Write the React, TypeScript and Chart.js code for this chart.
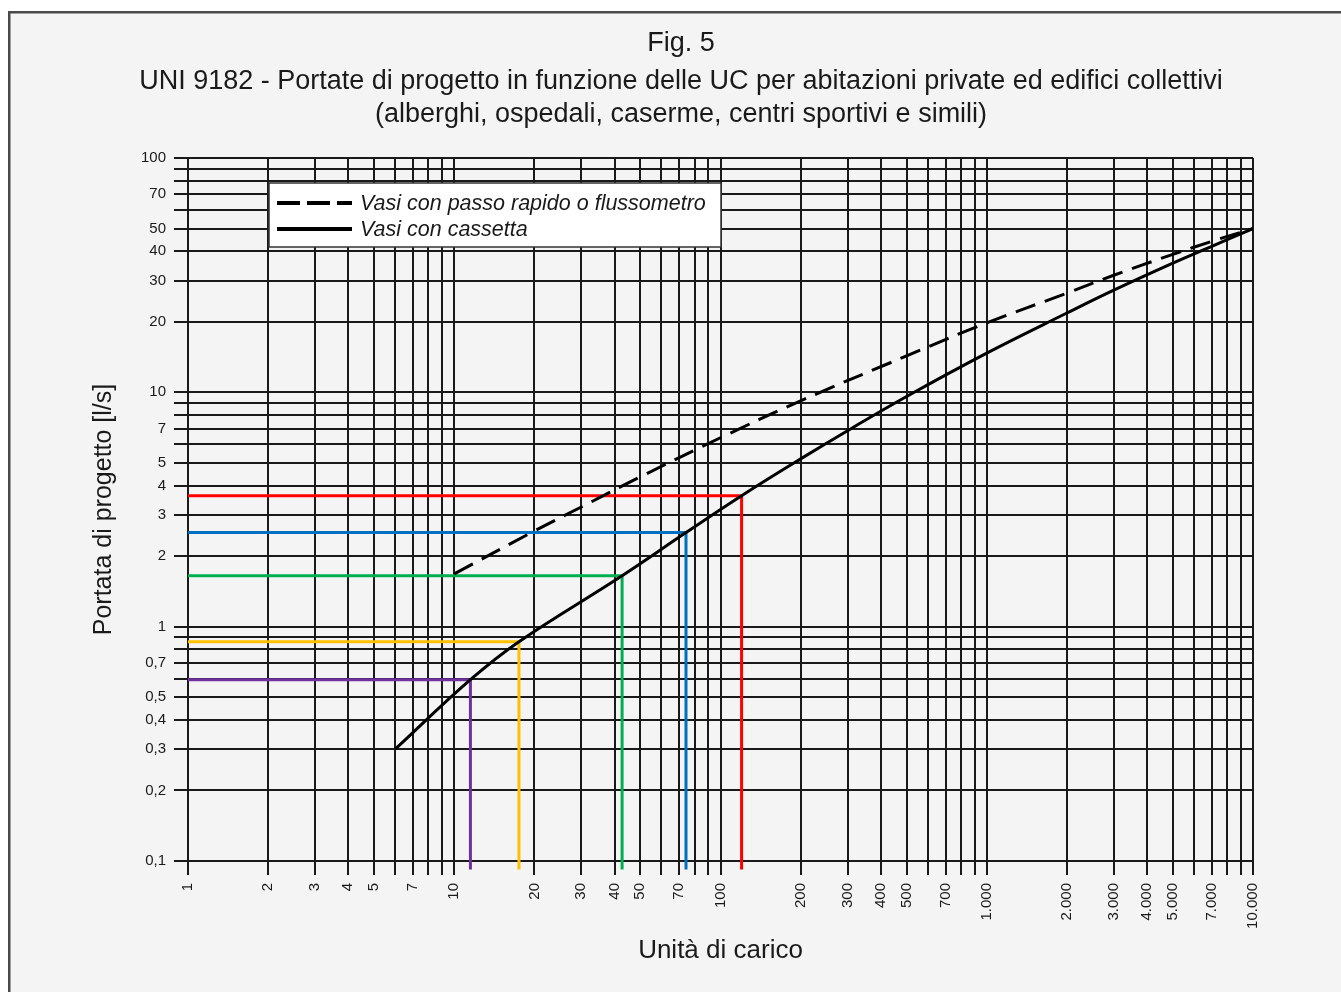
import React, { useEffect, useRef } from 'react';
import { Chart, registerables } from 'chart.js';

Chart.register(...registerables);

const titleLines = [
  'Fig. 5',
  'UNI 9182 - Portate di progetto in funzione delle UC per abitazioni private ed edifici collettivi',
  '(alberghi, ospedali, caserme, centri sportivi e simili)',
];
const xAxisTitle = 'Unità di carico';
const yAxisTitle = 'Portata di progetto [l/s]';

const xGridValues = [
  1, 2, 3, 4, 5, 6, 7, 8, 9,
  10, 20, 30, 40, 50, 60, 70, 80, 90,
  100, 200, 300, 400, 500, 600, 700, 800, 900,
  1000, 2000, 3000, 4000, 5000, 6000, 7000, 8000, 9000,
  10000,
];
const xLabelValues = [1, 2, 3, 4, 5, 7, 10, 20, 30, 40, 50, 70, 100, 200, 300, 400, 500, 700, 1000, 2000, 3000, 4000, 5000, 7000, 10000];
const xLabelTexts = ['1', '2', '3', '4', '5', '7', '10', '20', '30', '40', '50', '70', '100', '200', '300', '400', '500', '700', '1.000', '2.000', '3.000', '4.000', '5.000', '7.000', '10.000'];

const yGridValues = [
  0.1, 0.2, 0.3, 0.4, 0.5, 0.6, 0.7, 0.8, 0.9,
  1, 2, 3, 4, 5, 6, 7, 8, 9,
  10, 20, 30, 40, 50, 60, 70, 80, 90,
  100,
];
const yLabelValues = [0.1, 0.2, 0.3, 0.4, 0.5, 0.7, 1, 2, 3, 4, 5, 7, 10, 20, 30, 40, 50, 70, 100];
const yLabelTexts = ['0,1', '0,2', '0,3', '0,4', '0,5', '0,7', '1', '2', '3', '4', '5', '7', '10', '20', '30', '40', '50', '70', '100'];

// Vasi con passo rapido o flussometro (dashed)
const flushUC = [10, 20, 30, 50, 100, 200, 500, 1000, 2000, 3000, 5000, 7000, 10000];
const flushFlow = [1.68, 2.56, 3.24, 4.36, 6.4, 9.2, 14.3, 19.8, 26.5, 31.6, 38.8, 44.1, 50];

// Vasi con cassetta (solid)
const cisternUC = [6, 11.5, 17.5, 42.7, 74.2, 120, 200, 300, 500, 1000, 2000, 3000, 5000, 7000, 10000];
const cisternFlow = [0.3, 0.594, 0.863, 1.65, 2.52, 3.62, 5.2, 6.86, 9.6, 14.7, 21.8, 27.3, 35.6, 42, 50];

// Example readings (coloured guide lines)
const exampleUC = [11.5, 17.5, 42.7, 74.2, 120];
const exampleFlow = [0.594, 0.863, 1.65, 2.52, 3.62];
const exampleColors = ['#7030a0', '#ffc000', '#00b050', '#0070c0', '#ff0000'];
const guideStartUC = 1;
const guideFloor = 0.092;

const FONT = '"Liberation Sans", Arial, Helvetica, sans-serif';
const INK = '#1a1a1a';

function findLabel(values: number[], texts: string[], v: number): string {
  for (let i = 0; i < values.length; i++) {
    if (Math.abs(values[i] - v) / values[i] < 1e-6) return texts[i];
  }
  return '';
}

const framePlugin = {
  id: 'frame',
  beforeDraw(chart: any) {
    const ctx = chart.ctx;
    ctx.save();
    ctx.fillStyle = '#ffffff';
    ctx.fillRect(0, 0, chart.width, chart.height);
    ctx.fillStyle = '#f4f4f4';
    ctx.fillRect(9, 12, chart.width, chart.height);
    ctx.strokeStyle = '#4a4a4a';
    ctx.lineWidth = 2.5;
    ctx.beginPath();
    ctx.moveTo(9.25, chart.height + 5);
    ctx.lineTo(9.25, 12.25);
    ctx.lineTo(chart.width + 5, 12.25);
    ctx.stroke();
    // titles
    ctx.fillStyle = INK;
    ctx.textAlign = 'center';
    ctx.textBaseline = 'middle';
    ctx.font = `27px ${FONT}`;
    const cx = 681;
    ctx.fillText(titleLines[0], cx, 44);
    ctx.fillText(titleLines[1], cx, 82);
    ctx.fillText(titleLines[2], cx, 115);
    ctx.restore();
  },
};

const legendPlugin = {
  id: 'boxLegend',
  afterDraw(chart: any) {
    const ctx = chart.ctx;
    const area = chart.chartArea;
    const bx = area.left + 81;
    const by = area.top + 25;
    const bw = 452;
    const bh = 64;
    ctx.save();
    ctx.fillStyle = '#ffffff';
    ctx.fillRect(bx, by, bw, bh);
    ctx.strokeStyle = '#333333';
    ctx.lineWidth = 1.5;
    ctx.strokeRect(bx, by, bw, bh);
    const items = [chart.data.datasets[0], chart.data.datasets[1]];
    const rows = [by + 20, by + 46];
    items.forEach((ds: any, i: number) => {
      ctx.strokeStyle = '#000000';
      ctx.lineWidth = 4;
      ctx.setLineDash(ds.borderDash && ds.borderDash.length ? [23, 7] : []);
      ctx.beginPath();
      ctx.moveTo(bx + 8, rows[i]);
      ctx.lineTo(bx + 83, rows[i]);
      ctx.stroke();
      ctx.setLineDash([]);
      ctx.fillStyle = INK;
      ctx.font = `italic 21.5px ${FONT}`;
      ctx.textAlign = 'left';
      ctx.textBaseline = 'middle';
      ctx.fillText(ds.label, bx + 91, rows[i] + 1);
    });
    ctx.restore();
  },
};

export default function App() {
  const ref = useRef<HTMLCanvasElement | null>(null);

  useEffect(() => {
    if (!ref.current) return;
    const guideSets = exampleUC.map((uc, i) => ({
      label: 'guide' + i,
      data: [
        { x: guideStartUC, y: exampleFlow[i] },
        { x: uc, y: exampleFlow[i] },
        { x: uc, y: guideFloor },
      ],
      borderColor: exampleColors[i],
      borderWidth: 3,
      pointRadius: 0,
      fill: false,
      tension: 0,
      clip: false as any,
      borderJoinStyle: 'miter' as const,
      order: 5,
    }));

    const chart = new Chart(ref.current, {
      type: 'line',
      data: {
        datasets: [
          {
            label: 'Vasi con passo rapido o flussometro',
            data: flushUC.map((x, i) => ({ x, y: flushFlow[i] })),
            borderColor: '#000000',
            borderWidth: 3,
            borderDash: [21, 10],
            pointRadius: 0,
            fill: false,
            tension: 0.4,
            order: 1,
          },
          {
            label: 'Vasi con cassetta',
            data: cisternUC.map((x, i) => ({ x, y: cisternFlow[i] })),
            borderColor: '#000000',
            borderWidth: 3,
            pointRadius: 0,
            fill: false,
            tension: 0.4,
            order: 0,
          },
          ...guideSets,
        ] as any,
      },
      options: {
        animation: false,
        responsive: false,
        layout: { padding: { top: 158, left: 0, right: 88, bottom: 0 } },
        plugins: {
          legend: { display: false },
          title: { display: false },
          tooltip: { enabled: false },
        },
        scales: {
          x: {
            type: 'logarithmic',
            min: 1,
            max: 10000,
            afterBuildTicks: (scale: any) => {
              scale.ticks = xGridValues.map((v) => ({ value: v }));
            },
            afterFit: (scale: any) => {
              scale.height = 131;
            },
            grid: {
              color: INK,
              lineWidth: 2,
              tickLength: 14,
              drawTicks: true,
            },
            border: { color: INK, width: 2 },
            ticks: {
              autoSkip: false,
              minRotation: 90,
              maxRotation: 90,
              padding: 8,
              color: INK,
              font: { family: FONT, size: 15 },
              callback: (v: any) => findLabel(xLabelValues, xLabelTexts, Number(v)),
            },
            title: {
              display: true,
              text: xAxisTitle,
              color: INK,
              font: { family: FONT, size: 26 },
              padding: { top: 0, bottom: 26 },
            },
          },
          y: {
            type: 'logarithmic',
            min: 0.1,
            max: 100,
            afterBuildTicks: (scale: any) => {
              scale.ticks = yGridValues.map((v) => ({ value: v }));
            },
            afterFit: (scale: any) => {
              scale.width = 188;
            },
            grid: {
              color: INK,
              lineWidth: 2,
              tickLength: 14,
              drawTicks: true,
            },
            border: { color: INK, width: 2 },
            ticks: {
              autoSkip: false,
              padding: 8,
              color: INK,
              font: { family: FONT, size: 15 },
              callback: (v: any) => findLabel(yLabelValues, yLabelTexts, Number(v)),
            },
            title: {
              display: true,
              text: yAxisTitle,
              color: INK,
              font: { family: FONT, size: 25 },
              padding: { top: 89, bottom: 0 },
            },
          },
        },
      } as any,
      plugins: [framePlugin, legendPlugin],
    });
    return () => chart.destroy();
  }, []);

  return (
    <div style={{ position: 'absolute', left: 0, top: 0, width: 1341, height: 992, overflow: 'hidden' }}>
      <canvas ref={ref} width={1341} height={992} style={{ display: 'block', width: 1341, height: 992 }} />
    </div>
  );
}
